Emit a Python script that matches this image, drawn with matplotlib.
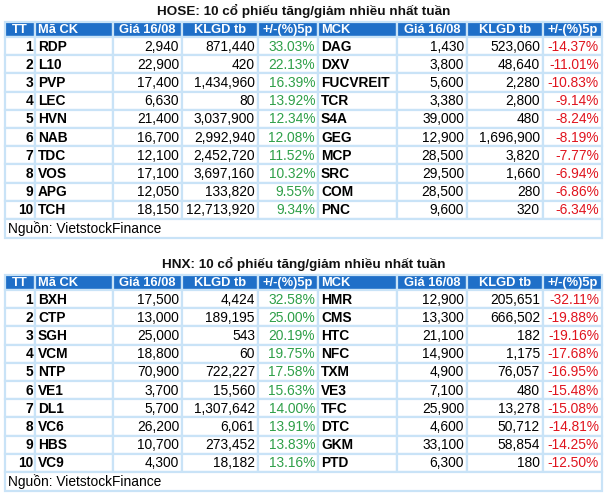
import matplotlib.pyplot as plt
from matplotlib.patches import Rectangle

plt.rcParams["font.family"] = ["Liberation Sans", "DejaVu Sans"]

# ---- data ----
headers = ["TT", "Mã CK", "Giá 16/08", "KLGD tb", "+/-(%)5p",
           "MCK", "Giá 16/08", "KLGD tb", "+/-(%)5p"]

hose_title = "HOSE: 10 cổ phiếu tăng/giảm nhiều nhất tuần"
hose_up_code = ["RDP", "L10", "PVP", "LEC", "HVN", "NAB", "TDC", "VOS", "APG", "TCH"]
hose_up_price = ["2,940", "22,900", "17,400", "6,630", "21,400", "16,700", "12,100", "17,100", "12,050", "18,150"]
hose_up_vol = ["871,440", "420", "1,434,960", "80", "3,037,900", "2,992,940", "2,452,720", "3,697,160", "133,820", "12,713,920"]
hose_up_pct = ["33.03%", "22.13%", "16.39%", "13.92%", "12.34%", "12.08%", "11.52%", "10.32%", "9.55%", "9.34%"]
hose_dn_code = ["DAG", "DXV", "FUCVREIT", "TCR", "S4A", "GEG", "MCP", "SRC", "COM", "PNC"]
hose_dn_price = ["1,430", "3,800", "5,600", "3,380", "39,000", "12,900", "28,500", "29,500", "28,500", "9,600"]
hose_dn_vol = ["523,060", "48,640", "2,280", "2,800", "480", "1,696,900", "3,820", "1,660", "280", "320"]
hose_dn_pct = ["-14.37%", "-11.01%", "-10.83%", "-9.14%", "-8.24%", "-8.19%", "-7.77%", "-6.94%", "-6.86%", "-6.34%"]

hnx_title = "HNX: 10 cổ phiếu tăng/giảm nhiều nhất tuần"
hnx_up_code = ["BXH", "CTP", "SGH", "VCM", "NTP", "VE1", "DL1", "VC6", "HBS", "VC9"]
hnx_up_price = ["17,500", "13,000", "25,000", "18,800", "70,900", "3,700", "5,700", "26,200", "10,700", "4,300"]
hnx_up_vol = ["4,424", "189,195", "543", "60", "722,227", "15,560", "1,307,642", "6,061", "273,452", "18,182"]
hnx_up_pct = ["32.58%", "25.00%", "20.19%", "19.75%", "17.58%", "15.63%", "14.00%", "13.91%", "13.83%", "13.16%"]
hnx_dn_code = ["HMR", "CMS", "HTC", "NFC", "TXM", "VE3", "TFC", "DTC", "GKM", "PTD"]
hnx_dn_price = ["12,900", "13,300", "21,100", "14,900", "4,900", "7,100", "25,900", "4,600", "33,100", "6,300"]
hnx_dn_vol = ["205,651", "666,502", "182", "1,175", "76,057", "480", "13,278", "50,712", "58,854", "180"]
hnx_dn_pct = ["-32.11%", "-19.88%", "-19.16%", "-17.68%", "-16.95%", "-15.48%", "-15.08%", "-14.81%", "-14.25%", "-12.50%"]

source = "Nguồn: VietstockFinance"

# ---- style / layout ----
HEAD_BG = "#1F6FC8"
GRID = "#C9E3F7"
GREEN = "#2E9F48"
RED = "#E0141E"
col_x = [5, 35, 113, 182, 258, 318, 397, 467, 543, 602]
row_h = 18.2
fs = 9.9
head_fs = 9.3

fig = plt.figure(figsize=(6.08, 4.98), dpi=100)
ax = fig.add_axes([0, 0, 1, 1])
ax.set_xlim(0, 608)
ax.set_ylim(498, 0)
ax.axis("off")


def cell(x0, x1, y0, y1, bg):
    ax.add_patch(Rectangle((x0, y0), x1 - x0, y1 - y0, facecolor=bg,
                           edgecolor=GRID, linewidth=1.6))


def draw_table(top, title, up, dn):
    ax.text(304, top + 11, title, ha="center", va="center",
            fontsize=9.7, fontweight="bold", color="#111111")
    hy0, hy1 = top + 22, top + 37
    for i, h in enumerate(headers):
        x0, x1 = col_x[i], col_x[i + 1]
        cell(x0, x1, hy0, hy1, HEAD_BG)
        if h in ("Mã CK", "MCK"):
            ax.text(x0 + 3, (hy0 + hy1) / 2 + 0.5, h, ha="left", va="center",
                    fontsize=head_fs, fontweight="bold", color="white")
        else:
            ax.text((x0 + x1) / 2, (hy0 + hy1) / 2 + 0.5, h, ha="center",
                    va="center", fontsize=head_fs, fontweight="bold", color="white")
    for r in range(10):
        y0 = hy1 + r * row_h
        y1 = y0 + row_h
        yc = (y0 + y1) / 2 + 0.5
        vals = [str(r + 1), up[0][r], up[1][r], up[2][r], up[3][r],
                dn[0][r], dn[1][r], dn[2][r], dn[3][r]]
        for i, v in enumerate(vals):
            x0, x1 = col_x[i], col_x[i + 1]
            cell(x0, x1, y0, y1, "white")
            if i in (1, 5):
                ax.text(x0 + 3, yc, v, ha="left", va="center", fontsize=fs,
                        fontweight="bold", color="black")
            elif i == 0:
                ax.text(x1 - 2, yc, v, ha="right", va="center", fontsize=fs,
                        fontweight="bold", color="black")
            else:
                color = "black"
                if i == 4:
                    color = GREEN
                elif i == 8:
                    color = RED
                ax.text(x1 - 3, yc, v, ha="right", va="center", fontsize=fs,
                        color=color)
    sy0 = hy1 + 10 * row_h
    sy1 = top + 238
    cell(col_x[0], col_x[-1], sy0, sy1, "white")
    ax.text(col_x[0] + 3, (sy0 + sy1) / 2, source, ha="left", va="center",
            fontsize=fs, color="black")


draw_table(0, hose_title, (hose_up_code, hose_up_price, hose_up_vol, hose_up_pct),
           (hose_dn_code, hose_dn_price, hose_dn_vol, hose_dn_pct))
draw_table(253, hnx_title, (hnx_up_code, hnx_up_price, hnx_up_vol, hnx_up_pct),
           (hnx_dn_code, hnx_dn_price, hnx_dn_vol, hnx_dn_pct))

fig.savefig("out.png", dpi=100)
